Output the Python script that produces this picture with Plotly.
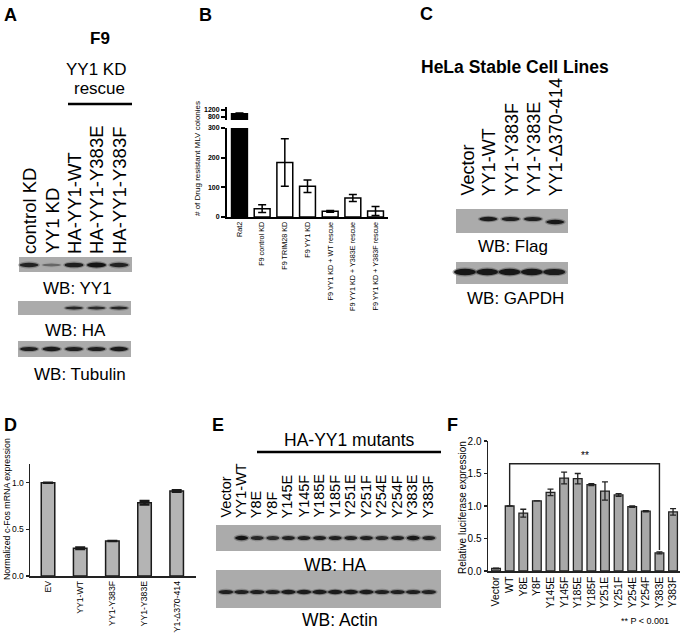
import plotly.graph_objects as go

W, H = 683, 633
FONT = "Arial, Liberation Sans, Helvetica, sans-serif"

def px(x):
    return x / W

def py(y):
    return 1 - y / H

# ---------------- data ----------------
# Panel A (western blot, band intensities 0..1)
A_lanes = ["control KD", "YY1 KD", "HA-YY1-WT", "HA-YY1-Y383E", "HA-YY1-Y383F"]
A_yy1 = [0.8, 0.12, 0.85, 1.0, 0.8]
A_ha = [0.0, 0.0, 0.75, 0.7, 0.75]
A_tubulin = [0.85, 0.9, 0.85, 0.85, 0.9]

# Panel B
B_cats = ["Rat2", "F9 control KD", "F9 TRIM28 KD", "F9 YY1 KD",
          "F9 YY1 KD + WT rescue", "F9 YY1 KD + Y383E rescue", "F9 YY1 KD + Y383F rescue"]
B_vals = [985, 28, 184, 104, 19, 64, 20]
B_err = [45, 13, 80, 21, 3, 12, 15]
B_colors = ["black", "white", "white", "white", "white", "white", "white"]

# Panel C
C_lanes = ["Vector", "YY1-WT", "YY1-Y383F", "YY1-Y383E", "YY1-Δ370-414"]
C_flag = [0.0, 0.9, 0.85, 0.85, 0.95]
C_flag_shift = [0, 0, 0, 0, 3]  # faster migrating deletion mutant
C_gapdh = [1.0, 0.95, 0.95, 0.95, 0.9]

# Panel D
D_cats = ["EV", "YY1-WT", "YY1-Y383F", "YY1-Y383E", "YY1-Δ370-414"]
D_vals = [1.0, 0.297, 0.376, 0.785, 0.912]
D_err = [0.0, 0.008, 0.0, 0.018, 0.008]

# Panel E
E_lanes = ["Vector", "YY1-WT", "Y8E", "Y8F", "Y145E", "Y145F", "Y185E", "Y185F",
           "Y251E", "Y251F", "Y254E", "Y254F", "Y383E", "Y383F"]
E_ha = [0.0, 1.0, 0.75, 0.7, 0.8, 0.85, 0.85, 0.85, 0.85, 0.85, 0.75, 0.85, 0.95, 0.8]
E_actin = [0.85, 0.85, 0.85, 0.85, 0.9, 0.9, 0.9, 0.9, 0.9, 0.9, 0.85, 0.85, 0.85, 0.8]

# Panel F
F_cats = ["Vector", "WT", "Y8E", "Y8F", "Y145E", "Y145F", "Y185E", "Y185F",
          "Y251E", "Y251F", "Y254E", "Y254F", "Y383E", "Y383F"]
F_vals = [0.04, 1.0, 0.89, 1.08, 1.21, 1.43, 1.42, 1.33, 1.23, 1.17, 0.99, 0.92, 0.28, 0.91]
F_err = [0.005, 0.0, 0.06, 0.0, 0.05, 0.09, 0.08, 0.015, 0.14, 0.02, 0.01, 0.01, 0.015, 0.05]
F_sig_pair = ["WT", "Y383E"]
F_sig_level = 1.65
F_sig_text = "**"

# ---------------- figure ----------------
fig = go.Figure()

bar_line = dict(color="black", width=1.5)
fig.add_trace(go.Bar(
    x=B_cats, y=B_vals, marker=dict(color=B_colors, line=bar_line), width=0.7,
    error_y=dict(type="data", array=B_err, color="black", thickness=1.5, width=4),
    xaxis="x", yaxis="y", showlegend=False))
fig.add_trace(go.Bar(
    x=B_cats, y=B_vals, marker=dict(color=B_colors, line=bar_line), width=0.7,
    error_y=dict(type="data", array=B_err, color="black", thickness=1.5, width=4),
    xaxis="x2", yaxis="y2", showlegend=False))

fig.add_trace(go.Bar(
    x=D_cats, y=D_vals, marker=dict(color="#b4b4b4", line=dict(color="#1a1a1a", width=1.5)),
    width=0.42,
    error_y=dict(type="data", array=D_err, color="#1a1a1a", thickness=2.5, width=5),
    xaxis="x3", yaxis="y3", showlegend=False))

fig.add_trace(go.Bar(
    x=F_cats, y=F_vals, marker=dict(color="#a8a8a8", line=dict(color="#222222", width=1.3)),
    width=0.64,
    error_y=dict(type="data", array=F_err, color="#222222", thickness=1.3, width=3),
    xaxis="x4", yaxis="y4", showlegend=False))

i1, i2 = F_cats.index(F_sig_pair[0]), F_cats.index(F_sig_pair[1])
fig.add_trace(go.Scatter(
    x=[F_sig_pair[0], F_sig_pair[0], F_sig_pair[1], F_sig_pair[1]],
    y=[F_vals[i1] + F_err[i1], F_sig_level, F_sig_level, F_vals[i2] + F_err[i2] + 0.03],
    mode="lines", line=dict(color="#222222", width=1.4), hoverinfo="skip",
    xaxis="x4", yaxis="y4", showlegend=False))

shapes = []
annotations = []

def text(x, y, s, size=17, bold=False, angle=0, xa="center", ya="middle"):
    annotations.append(dict(
        x=px(x), y=py(y), xref="paper", yref="paper", text=s, showarrow=False,
        textangle=angle, xanchor=xa, yanchor=ya,
        font=dict(family=FONT, size=size, color="black", weight="bold" if bold else "normal")))

def blot(x0, x1, y0, y1):
    shapes.append(dict(type="rect", xref="paper", yref="paper", layer="below",
                       x0=px(x0), x1=px(x1), y0=py(y1), y1=py(y0),
                       fillcolor="#ababab", line=dict(width=0)))

def band(xc, yc, w, h, inten):
    if inten <= 0:
        return
    hh = h * (0.55 + 0.45 * inten)
    shapes.append(dict(type="circle", xref="paper", yref="paper",
                       x0=px(xc - w / 2 - 1.5), x1=px(xc + w / 2 + 1.5),
                       y0=py(yc + hh / 2 + 1.2), y1=py(yc - hh / 2 - 1.2),
                       fillcolor="rgba(70,70,70,%.2f)" % (0.45 * inten), line=dict(width=0)))
    shapes.append(dict(type="circle", xref="paper", yref="paper",
                       x0=px(xc - w / 2), x1=px(xc + w / 2),
                       y0=py(yc + hh / 2), y1=py(yc - hh / 2),
                       fillcolor="rgba(20,20,20,%.2f)" % (0.35 + 0.65 * inten), line=dict(width=0)))

def hline(x0, x1, y, w=2.5):
    shapes.append(dict(type="line", xref="paper", yref="paper",
                       x0=px(x0), x1=px(x1), y0=py(y), y1=py(y),
                       line=dict(color="black", width=w)))

# ---------- Panel A ----------
text(10, 15, "A", size=18, bold=True)
text(100, 39, "F9", size=17, bold=True)
text(96, 70, "YY1 KD", size=17)
text(99, 89, "rescue", size=17)
hline(68, 132, 104)
A_x0, A_dx = 29, 22.5
for i, lab in enumerate(A_lanes):
    text(A_x0 + i * A_dx, 256, lab, size=18.5, angle=-90, ya="bottom")
blot(19, 132, 257, 272)
for i, v in enumerate(A_yy1):
    band(A_x0 + i * A_dx, 265, 19, 5, v)
text(77, 288, "WB: YY1", size=17)
blot(18, 131, 301, 315)
for i, v in enumerate(A_ha):
    band(A_x0 + i * A_dx, 308, 18, 3.5, v)
text(75, 330, "WB: HA", size=17)
blot(18, 131, 341, 357)
for i, v in enumerate(A_tubulin):
    band(A_x0 + i * A_dx, 349, 18, 4.5, v)
text(80, 374, "WB: Tubulin", size=17)

# ---------- Panel B ----------
text(205, 15, "B", size=18, bold=True)
text(197, 159, "# of Drug resistant MLV colonies", size=8, angle=-90)

# ---------- Panel C ----------
text(418, 14, "C", size=18, bold=True, xa="left")
text(515, 67, "HeLa Stable Cell Lines", size=17.5, bold=True)
C_x0, C_dx = 464, 22.3
for i, lab in enumerate(C_lanes):
    text(C_x0 + 3 + i * C_dx, 198, lab, size=18, angle=-90, ya="bottom")
blot(456, 568, 209, 233)
for i, v in enumerate(C_flag):
    band(C_x0 + i * C_dx + 2, 219 + C_flag_shift[i], 18, 4.5, v)
text(513, 246, "WB: Flag", size=17)
blot(456, 568, 262, 284)
for i, v in enumerate(C_gapdh):
    band(C_x0 + i * C_dx + 1, 272, 22, 6.5, v)
text(515, 298, "WB: GAPDH", size=17)

# ---------- Panel D ----------
text(10, 425, "D", size=18, bold=True)
text(7, 509, "Normalized c-Fos mRNA expression", size=8.8, angle=-90)

# ---------- Panel E ----------
text(218, 425, "E", size=18, bold=True)
text(349, 440, "HA-YY1 mutants", size=17.5)
hline(257, 441, 452)
E_x0, E_dx = 225, 15.6
for i, lab in enumerate(E_lanes):
    text(E_x0 + i * E_dx, 520, lab, size=14.5, angle=-90, ya="bottom")
blot(216, 441, 525, 551)
for i, v in enumerate(E_ha):
    band(E_x0 + 1 + i * E_dx, 538, 13, 4.5, v)
text(335, 565, "WB: HA", size=17.5)
blot(216, 441, 570, 608)
for i, v in enumerate(E_actin):
    band(E_x0 + 1 + i * E_dx, 592, 14.5, 4.5, v)
text(340, 620, "WB: Actin", size=17.5)

# ---------- Panel F ----------
text(452, 425, "F", size=18, bold=True)
text(462, 508, "Relative luciferase expression", size=10, angle=-90)
text(645, 621, "** P < 0.001", size=9)
annotations.append(dict(x=(i1 + i2) / 2, y=F_sig_level + 0.12, xref="x4", yref="y4",
                        text=F_sig_text, showarrow=False,
                        font=dict(family=FONT, size=10, color="black")))

axis_common = dict(showgrid=False, zeroline=False, automargin=False)

fig.update_layout(
    template="none",
    width=W, height=H, margin=dict(l=0, r=0, t=0, b=0, pad=0),
    paper_bgcolor="white", plot_bgcolor="rgba(0,0,0,0)",
    font=dict(family=FONT, color="black"),
    bargap=0.3, showlegend=False, hovermode=False,
    shapes=shapes, annotations=annotations,
    xaxis=dict(domain=[px(227), px(388)], range=[-0.55, 6.55], anchor="y",
               showline=True, linecolor="black", linewidth=2, ticks="",
               tickangle=-90, tickfont=dict(size=7.2, family=FONT, color="black"), **axis_common),
    yaxis=dict(domain=[py(217), py(128)], range=[0, 300], anchor="x",
               tickvals=[0, 100, 200, 300], showline=True, linecolor="black", linewidth=2,
               ticks="outside", ticklen=4, tickwidth=2, tickcolor="black",
               tickfont=dict(size=7, family=FONT, weight="bold", color="black"), **axis_common),
    xaxis2=dict(domain=[px(227), px(388)], range=[-0.55, 6.55], anchor="y2",
                matches="x", visible=False, **axis_common),
    yaxis2=dict(domain=[py(120), py(107)], range=[629, 1371], anchor="x2",
                tickvals=[800, 1200], showline=True, linecolor="black", linewidth=2,
                ticks="outside", ticklen=4, tickwidth=2, tickcolor="black",
                tickfont=dict(size=7, family=FONT, weight="bold", color="black"), **axis_common),
    xaxis3=dict(domain=[px(30), px(196)], range=[-0.56, 4.6], anchor="y3",
                showline=True, linecolor="#222222", linewidth=1.5, ticks="",
                tickangle=-90, tickfont=dict(size=8.7, family=FONT, color="black"), **axis_common),
    yaxis3=dict(domain=[py(576), py(464)], range=[0, 1.2], anchor="x3",
                tickvals=[0, 0.5, 1.0], ticktext=["0.0", "0.5", "1.0"],
                showline=True, linecolor="#222222", linewidth=1.5,
                ticks="outside", ticklen=3, tickwidth=1.5, tickcolor="#222222",
                tickfont=dict(size=8.5, family=FONT, color="black"), **axis_common),
    xaxis4=dict(domain=[px(488), px(680)], range=[-0.59, 13.51], anchor="y4",
                showline=True, linecolor="#222222", linewidth=1.5, ticks="",
                tickangle=-90, tickfont=dict(size=10.5, family=FONT, color="black"), **axis_common),
    yaxis4=dict(domain=[py(571), py(441)], range=[0, 2.0], anchor="x4",
                tickvals=[0, 0.5, 1.0, 1.5, 2.0], ticktext=["0.0", "0.5", "1.0", "1.5", "2.0"],
                showline=True, linecolor="#222222", linewidth=1.5,
                ticks="outside", ticklen=3, tickwidth=1.5, tickcolor="#222222",
                tickfont=dict(size=10, family=FONT, color="black"), **axis_common),
)

fig.write_html("out.html", config={"displayModeBar": False, "staticPlot": True},
               post_script="document.body.style.margin='0px';document.body.style.overflow='hidden';")
